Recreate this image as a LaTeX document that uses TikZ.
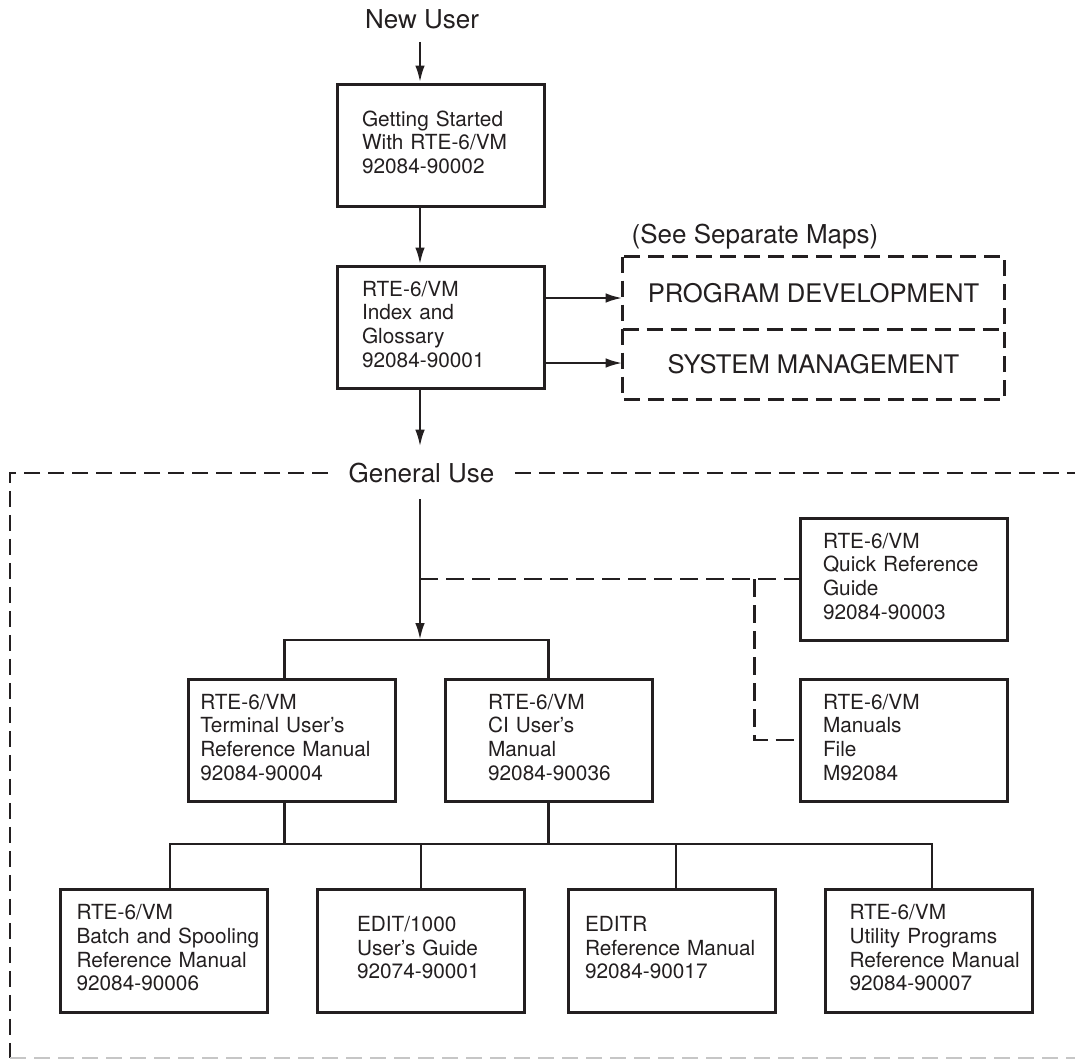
\documentclass[tikz,border=0pt]{standalone}
\usepackage{fontspec}
\setmainfont{TeX Gyre Heros}
\usetikzlibrary{arrows.meta, calc, positioning}
\definecolor{ink}{HTML}{231F20}
\newcommand{\booklines}[2]{\begin{tabular}{@{\hspace{#1}}l@{}}#2\end{tabular}}

\begin{document}
\begin{tikzpicture}[x=0.5pt, y=-0.5pt, ink,
    manual/.style={draw, line width=1.5pt, minimum height=61pt, text width=103.5pt,
      inner xsep=0pt, inner ysep=0pt, align=left, font=\fontsize{10.4}{11.8}\selectfont},
    mapbox/.style={minimum width=190.5pt, inner sep=0pt, font=\fontsize{12.8}{15}\selectfont},
    heading/.style={font=\fontsize{13}{15}\selectfont},
    link/.style={line width=1.3pt},
    arr/.style={link, -{Latex[length=8.5pt,width=4.8pt]}},
    dashlink/.style={link, dash pattern=on 9pt off 4pt},
    frame/.style={line width=1.4pt, dash pattern=on 8pt off 4pt}]
    \useasboundingbox (0,0) rectangle (1075,1060);

    % top of the map
    \node[heading] (newuser) at (422,19) {New User};
    \coordinate (spine) at (420,0);
    \node[manual] (gs) at (440.5,145) {\booklines{12.5pt}{Getting Started\\With RTE-6/VM\\92084-90002}};
    \node[manual] (ig) at (440.5,327) {\booklines{12.5pt}{RTE-6/VM\\Index and\\Glossary\\92084-90001}};
    \node[heading] (seemaps) at (755,237) {(See Separate Maps)};
    \node[mapbox, minimum height=36pt] (pd) at (813.5,293) {PROGRAM DEVELOPMENT};
    \node[mapbox, minimum height=35pt] (sm) at (813.5,364) {SYSTEM MANAGEMENT};
    \draw[frame] (pd.north west) rectangle (sm.south east);
    \draw[frame] (pd.south west) -- (pd.south east);
    \node[heading, inner xsep=10pt, inner ysep=8pt] (gu) at (421.5,473) {General Use};

    % general use
    \node[manual] (qr) at (903.5,579) {\booklines{11.5pt}{RTE-6/VM\\Quick Reference\\Guide\\92084-90003}};
    \node[manual] (mf) at (903.5,740) {\booklines{11.5pt}{RTE-6/VM\\Manuals\\File\\M92084}};
    \node[manual] (tr) at (291.75,740) {\booklines{6pt}{RTE-6/VM\\Terminal User's\\Reference Manual\\92084-90004}};
    \node[manual] (ci) at (548.75,740) {\booklines{21.4pt}{RTE-6/VM\\CI User's\\Manual\\92084-90036}};
    \node[manual, minimum height=61.5pt] (bs) at (164,950.5) {\booklines{8pt}{RTE-6/VM\\Batch and Spooling\\Reference Manual\\92084-90006}};
    \node[manual, minimum height=61.5pt] (ed) at (421,950.5) {\booklines{19.75pt}{EDIT/1000\\User's Guide\\92074-90001}};
    \node[manual, minimum height=61.5pt] (er) at (672,950.5) {\booklines{8.25pt}{EDITR\\Reference Manual\\92084-90017}};
    \node[manual, minimum height=61.5pt] (up) at (929,950.5) {\booklines{12pt}{RTE-6/VM\\Utility Programs\\Reference Manual\\92084-90007}};
    \coordinate (upbar) at (0,640);
    \coordinate (lowbar) at (0,844);

    % arrows
    \draw[arr] ([yshift=-3pt]newuser.south -| spine) -- (gs.north -| spine);
    \draw[arr] (gs.south -| spine) -- (ig.north -| spine);
    \draw[arr] ([yshift=-2.5pt]pd.west -| ig.east) -- ([yshift=-2.5pt]pd.west);
    \draw[arr] ([yshift=0.5pt]sm.west -| ig.east) -- ([yshift=0.5pt]sm.west);
    \draw[arr] (ig.south -| spine) -- (gu.north -| spine);
    \draw[arr] (gu.south -| spine) -- (upbar -| spine);

    % tree lines
    \draw[link] ([xshift=-3.5pt]tr.north) |- (upbar -| ci.north) -- (ci.north);
    \draw[dashlink] (spine |- qr.west) -- (qr.west);
    \draw[dashlink] ([xshift=-22pt]qr.west) |- (mf.west);
    \draw[link] ([xshift=-3.5pt]tr.south) -- ([xshift=-3.5pt]tr.south |- lowbar);
    \draw[link] (ci.south) -- (ci.south |- lowbar);
    \draw[link] ([xshift=3pt]bs.north) |- ([xshift=1.5pt]up.north |- lowbar) -- ([xshift=1.5pt]up.north);
    \draw[link] (ed.north) -- (ed.north |- lowbar);
    \draw[link] ([xshift=2pt]er.north) -- ([xshift=2pt]er.north |- lowbar);

    % frame round general use
    \draw[frame] (gu.west) -- (10,473) -- (10,1058);
    \draw[frame] (gu.east) -- (1075,473);
    \draw[frame, gray!45] (10,1058) -- (1075,1058);
\end{tikzpicture}
\end{document}
